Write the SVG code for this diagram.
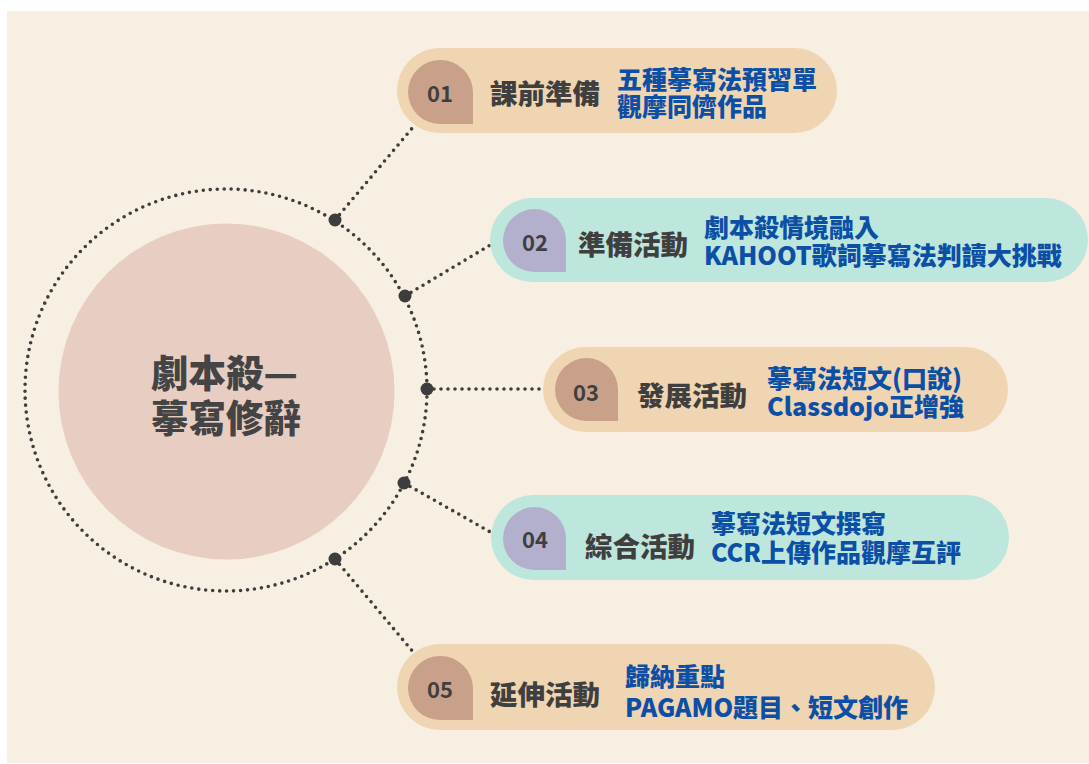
<svg xmlns="http://www.w3.org/2000/svg" width="1089" height="764" viewBox="0 0 1089 764">
<style>
.bg{fill:#ffffff}
.panel{fill:#f7efe1}
.dot{stroke:#3d3d3d;stroke-width:3.6;stroke-dasharray:0 7;stroke-linecap:round;fill:none}
.knob{fill:#3d3d3d}
.pillA{fill:#efd5b1}
.pillB{fill:#bde6dd}
.badgeA{fill:#c9a18a}
.badgeB{fill:#b2b0cd}
.num{font-family:"Noto Sans CJK TC","Noto Sans",sans-serif;font-weight:700;font-size:22px;fill:#3f3f3f;text-anchor:middle;dominant-baseline:central}
.lab{font-family:"Noto Sans CJK TC",sans-serif;font-weight:900;font-size:27.5px;fill:#3f3f3f;dominant-baseline:central}
.desc{font-family:"Noto Sans CJK TC",sans-serif;font-weight:900;font-size:25px;fill:#0b4fa6;dominant-baseline:central}
.title{font-family:"Noto Sans CJK TC",sans-serif;font-weight:900;font-size:37.5px;fill:#444444;dominant-baseline:central}
</style>
<rect class="bg" x="0" y="0" width="1089" height="764"/>
<rect class="panel" x="7" y="11" width="1082" height="752"/>

<g id="connectors">
<circle class="dot" cx="226" cy="390" r="201"/>
<line class="dot" x1="335" y1="220" x2="414" y2="126"/>
<line class="dot" x1="405" y1="296" x2="492" y2="244"/>
<line class="dot" x1="427" y1="389" x2="543" y2="389"/>
<line class="dot" x1="404" y1="483" x2="492" y2="533"/>
<line class="dot" x1="335" y1="559" x2="414" y2="653"/>
<circle class="knob" cx="335" cy="220" r="6.5"/>
<circle class="knob" cx="405" cy="296" r="6.5"/>
<circle class="knob" cx="427" cy="389" r="6.5"/>
<circle class="knob" cx="404" cy="483" r="6.5"/>
<circle class="knob" cx="335" cy="559" r="6.5"/>
</g>

<g id="center">
<circle cx="226.5" cy="391.5" r="168" fill="#e8cdc2"/>
<text class="title" x="151" y="370">劇本殺—</text>
<text class="title" x="151" y="415">摹寫修辭</text>
</g>

<g id="node01">
<rect class="pillA" x="397" y="48" width="440" height="85" rx="42.5"/>
<path class="badgeA" d="M473,124 L440,124 A32,32 0 0 1 408,92 A32,32 0 0 1 440.5,60 A32.5,32.5 0 0 1 473,92.5 Z"/>
<text class="num" x="440" y="92">01</text>
<text class="lab" x="490" y="92">課前準備</text>
<text class="desc" x="617" y="78">五種摹寫法預習單</text>
<text class="desc" x="617" y="105">觀摩同儕作品</text>
</g>

<g id="node02">
<rect class="pillB" x="490" y="198" width="598" height="84" rx="42"/>
<path class="badgeB" d="M566,272 L534.5,272 A31.5,31.5 0 0 1 503,240.5 A31.5,31.5 0 0 1 534.5,209 A31.5,31.5 0 0 1 566,240.5 Z"/>
<text class="num" x="535" y="241">02</text>
<text class="lab" x="578" y="243">準備活動</text>
<text class="desc" x="704" y="226">劇本殺情境融入</text>
<text class="desc" x="704" y="254">KAHOOT歌詞摹寫法判讀大挑戰</text>
</g>

<g id="node03">
<rect class="pillA" x="543" y="347" width="465" height="85" rx="42.5"/>
<path class="badgeA" d="M618,421 L586.5,421 A31.5,31.5 0 0 1 555,389.5 A31.5,31.5 0 0 1 586.5,358 A31.5,31.5 0 0 1 618,389.5 Z"/>
<text class="num" x="586" y="391">03</text>
<text class="lab" x="637" y="394">發展活動</text>
<text class="desc" x="767" y="377">摹寫法短文(口說)</text>
<text class="desc" x="767" y="405">Classdojo正增強</text>
</g>

<g id="node04">
<rect class="pillB" x="491" y="495" width="518" height="85" rx="42.5"/>
<path class="badgeB" d="M566,570 L534.5,570 A31.5,31.5 0 0 1 503,538.5 A31.5,31.5 0 0 1 534.5,507 A31.5,31.5 0 0 1 566,538.5 Z"/>
<text class="num" x="535" y="538">04</text>
<text class="lab" x="585" y="545">綜合活動</text>
<text class="desc" x="711" y="522">摹寫法短文撰寫</text>
<text class="desc" x="711" y="551">CCR上傳作品觀摩互評</text>
</g>

<g id="node05">
<rect class="pillA" x="397" y="644" width="538" height="86" rx="43"/>
<path class="badgeA" d="M473,720 L440,720 A32,32 0 0 1 408,688 A32,32 0 0 1 440.5,656 A32.5,32.5 0 0 1 473,688.5 Z"/>
<text class="num" x="440" y="688">05</text>
<text class="lab" x="490" y="693">延伸活動</text>
<text class="desc" x="625" y="675">歸納重點</text>
<text class="desc" x="625" y="706">PAGAMO題目、短文創作</text>
</g>
</svg>
